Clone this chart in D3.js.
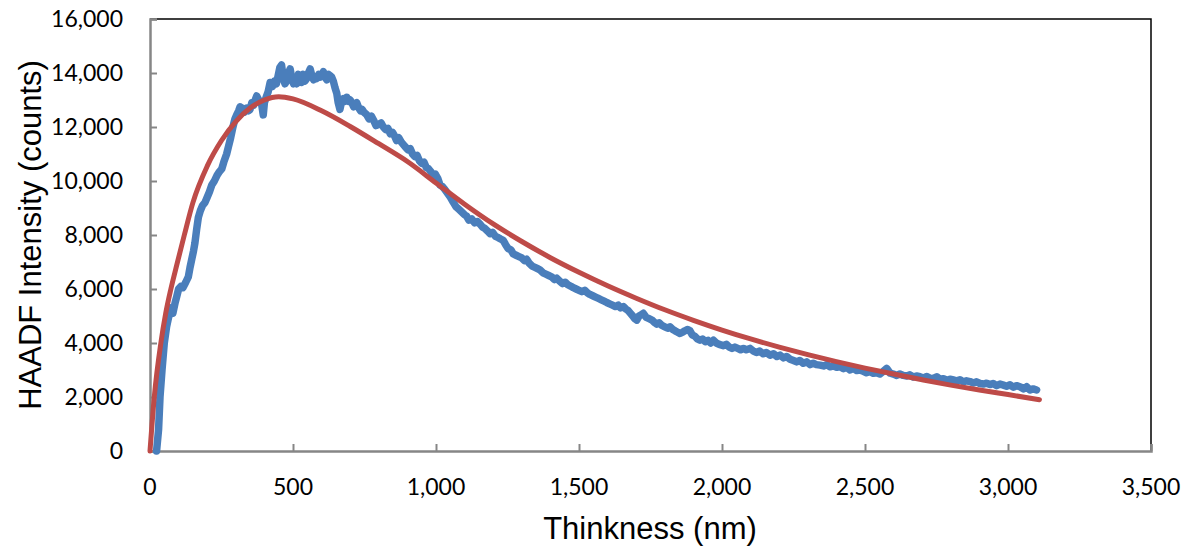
<!DOCTYPE html>
<html>
<head>
<meta charset="utf-8">
<script src="https://cdn.jsdelivr.net/npm/d3@7.9.0/dist/d3.min.js"></script>
<style>
  body { margin: 0; background: #fff; }
  svg { display: block; }
</style>
</head>
<body>
<svg width="1190" height="548"></svg>
<script>
// measured HAADF intensity (thickness nm, counts)
const measuredT = [23,30,35,42,50,58,66,72,80,88,93,100,108,115,125,134,140,146,152,157,163,169,176,184,192,200,208,216,225,234,243,251,258,268,275,282,290,297,303,310,315,322,330,338,344,350,356,362,368,373,380,386,391,396,400,406,413,420,428,435,442,448,454,460,466,472,478,484,490,496,502,508,513,519,525,530,536,542,548,554,560,566,572,578,583,590,596,601,606,612,618,624,630,635,641,647,653,658,664,670,676,682,688,694,700,706,712,718,723,730,736,742,748,758,766,774,782,790,800,808,816,824,832,840,848,856,862,870,878,886,894,902,910,918,926,934,942,950,958,966,974,982,990,998,1006,1014,1022,1030,1040,1050,1061,1070,1080,1090,1100,1107,1115,1125,1135,1145,1154,1162,1170,1180,1189,1198,1208,1218,1226,1235,1243,1252,1262,1270,1280,1290,1300,1310,1317,1326,1336,1346,1356,1364,1374,1384,1394,1404,1414,1422,1432,1442,1452,1462,1472,1480,1490,1500,1510,1520,1530,1538,1548,1558,1568,1578,1588,1597,1607,1617,1627,1637,1645,1655,1665,1672,1680,1688,1695,1702,1710,1718,1725,1735,1745,1755,1765,1772,1780,1790,1800,1810,1818,1828,1836,1845,1853,1862,1870,1880,1888,1896,1905,1914,1923,1932,1942,1951,1960,1970,1980,1990,2005,2015,2025,2035,2045,2055,2065,2075,2085,2098,2110,2120,2132,2144,2155,2168,2180,2192,2203,2215,2226,2238,2250,2261,2272,2284,2296,2308,2319,2330,2343,2355,2366,2378,2390,2401,2413,2425,2436,2448,2459,2471,2482,2494,2505,2517,2529,2540,2552,2564,2576,2588,2599,2611,2622,2634,2646,2657,2669,2680,2692,2704,2715,2727,2739,2751,2762,2774,2786,2797,2809,2820,2832,2844,2855,2867,2879,2890,2902,2914,2925,2937,2948,2960,2972,2984,2995,3007,3019,3030,3042,3054,3065,3077,3088,3100];
const measuredV = [0,800,2000,3000,4000,4600,5000,5300,5100,5500,5700,6000,6100,6050,6250,6450,6800,7100,7400,7700,8200,8650,8900,9100,9200,9400,9600,9850,10000,10200,10350,10450,10700,11000,11300,11600,12000,12300,12450,12600,12750,12700,12550,12700,12600,12650,12900,12800,13000,13150,13000,12950,12800,12450,12900,13100,13300,13650,13500,13700,13600,13900,14200,14300,13800,13600,13700,14000,14150,13800,13600,13700,13600,13950,13800,13650,13950,13700,13800,14000,14150,13900,13750,13850,13800,13950,13850,13900,14050,13850,13750,13950,13900,13850,13700,13450,13250,12900,12650,12950,13050,12950,13100,12950,13000,12900,12750,12850,12900,12700,12600,12650,12550,12450,12300,12400,12250,12050,12100,12150,12000,11900,11950,11750,11800,11650,11500,11600,11450,11350,11250,11150,11200,11000,10900,10950,10750,10650,10700,10500,10450,10350,10200,10250,10100,9850,9800,9700,9550,9400,9200,9050,8950,8850,8750,8700,8550,8600,8450,8500,8400,8300,8250,8150,8050,8100,7950,7900,7850,7800,7650,7500,7450,7300,7250,7200,7150,7050,7100,6950,6850,6800,6750,6700,6600,6550,6500,6450,6350,6400,6300,6200,6250,6150,6100,6050,6000,5950,5900,5950,5850,5800,5750,5700,5650,5600,5550,5500,5450,5400,5350,5400,5300,5350,5250,5200,5100,5000,4900,4850,5000,5050,5100,4950,4900,4850,4750,4700,4750,4650,4600,4550,4600,4500,4450,4400,4350,4400,4450,4500,4450,4300,4250,4150,4100,4150,4050,4100,4000,4100,4000,3950,3900,3950,3850,3800,3850,3800,3750,3800,3750,3800,3700,3650,3700,3600,3650,3550,3600,3500,3550,3450,3500,3400,3350,3300,3350,3250,3300,3200,3250,3200,3180,3150,3200,3120,3150,3100,3120,3050,3100,3000,3060,2980,3000,2950,2900,2940,2880,2900,2850,2950,3060,2880,2850,2800,2850,2800,2780,2820,2740,2780,2750,2700,2760,2700,2680,2750,2660,2680,2620,2660,2630,2600,2640,2560,2600,2570,2520,2560,2500,2480,2510,2460,2500,2420,2480,2440,2400,2450,2360,2420,2380,2300,2380,2260,2300,2260];

// fitted curve
const fitT = [0,15,38,55,73,95,120,150,200,250,300,350,400,450,500,600,700,800,900,1000,1100,1200,1300,1400,1500,1600,1700,1800,1900,2000,2100,2200,2300,2400,2500,2600,2700,2800,2900,3000,3110];
const fitV = [0,2000,4000,5100,6000,6950,8000,9200,10550,11500,12200,12700,13000,13120,13040,12600,12020,11380,10720,9930,9140,8410,7760,7160,6620,6120,5660,5230,4840,4480,4150,3850,3570,3310,3070,2850,2640,2440,2260,2090,1900];

const xTicks = [0,500,1000,1500,2000,2500,3000,3500];
const yTicks = [0,2000,4000,6000,8000,10000,12000,14000,16000];

const measured = measuredT.map((t, i) => ({ t, v: measuredV[i] }));
const fit = fitT.map((t, i) => ({ t, v: fitV[i] }));

const svg = d3.select('svg');
const plotLeft = 150, plotRight = 1151, plotTop = 19, plotBottom = 451;

const x = d3.scaleLinear().domain([0, 3500]).range([plotLeft, plotRight]);
const y = d3.scaleLinear().domain([0, 16000]).range([plotBottom, plotTop]);
const fmt = d3.format(',');

// frame (top and right)
svg.append('path')
  .attr('d', `M${plotLeft},${plotTop}H${plotRight}V${plotBottom}`)
  .attr('fill', 'none')
  .attr('stroke', '#000')
  .attr('stroke-width', 1.5);

// y axis
const yAxis = svg.append('g')
  .attr('transform', `translate(${plotLeft},0)`)
  .call(d3.axisRight(y).tickValues(yTicks).tickSize(7).tickFormat(''));
yAxis.select('.domain').attr('stroke', '#868686').attr('stroke-width', 2.5);
yAxis.selectAll('.tick line').attr('stroke', '#868686').attr('stroke-width', 2);

svg.append('g').selectAll('text')
  .data(yTicks)
  .join('text')
  .attr('x', 123)
  .attr('y', d => y(d))
  .attr('dy', '0.35em')
  .attr('text-anchor', 'end')
  .attr('font-family', 'Lato, sans-serif')
  .attr('font-size', 23)
  .attr('fill', '#000')
  .text(d => fmt(d));

// x axis
const xAxis = svg.append('g')
  .attr('transform', `translate(0,${plotBottom})`)
  .call(d3.axisTop(x).tickValues(xTicks).tickSize(7).tickFormat(''));
xAxis.select('.domain').attr('stroke', '#868686').attr('stroke-width', 2.5);
xAxis.selectAll('.tick line').attr('stroke', '#868686').attr('stroke-width', 2);

svg.append('g').selectAll('text')
  .data(xTicks)
  .join('text')
  .attr('x', d => x(d))
  .attr('y', 495)
  .attr('text-anchor', 'middle')
  .attr('font-family', 'Lato, sans-serif')
  .attr('font-size', 23)
  .attr('fill', '#000')
  .text(d => fmt(d));

// lines
svg.append('path')
  .datum(measured)
  .attr('d', d3.line().x(d => x(d.t)).y(d => y(d.v)))
  .attr('fill', 'none')
  .attr('stroke', '#4a7ebb')
  .attr('stroke-width', 7.5)
  .attr('stroke-linejoin', 'round')
  .attr('stroke-linecap', 'round');

svg.append('path')
  .datum(fit)
  .attr('d', d3.line().x(d => x(d.t)).y(d => y(d.v)).curve(d3.curveMonotoneX))
  .attr('fill', 'none')
  .attr('stroke', '#be4b48')
  .attr('stroke-width', 5)
  .attr('stroke-linecap', 'round');

// axis titles
svg.append('text')
  .attr('x', 650)
  .attr('y', 539)
  .attr('text-anchor', 'middle')
  .attr('font-family', 'Liberation Sans, Arial, sans-serif')
  .attr('font-size', 31)
  .text('Thinkness (nm)');

svg.append('text')
  .attr('transform', 'translate(41,235) rotate(-90)')
  .attr('text-anchor', 'middle')
  .attr('font-family', 'Liberation Sans, Arial, sans-serif')
  .attr('font-size', 31)
  .text('HAADF Intensity (counts)');
</script>
</body>
</html>
